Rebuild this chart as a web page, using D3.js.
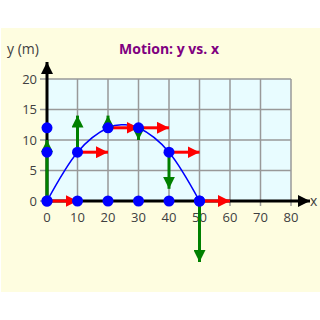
<!DOCTYPE html>
<html>
<head>
<meta charset="utf-8">
<script src="https://cdn.jsdelivr.net/npm/d3@7"></script>
<style>
  body { margin: 0; background: #fff; }
  text { font-family: "Open Sans", sans-serif; }
</style>
</head>
<body>
<div id="chart"></div>
<script>
// ticks
const xTicks = [0, 10, 20, 30, 40, 50, 60, 70, 80]
const yTicks = [0, 5, 10, 15, 20]

// projectile positions and velocity components
const posX = [0, 10, 20, 30, 40, 50]
const posY = [0, 8, 12, 12, 8, 0]
const velX = [10, 10, 10, 10, 10, 10]
const velY = [10, 6, 2, -2, -6, -10]

// projections of the positions onto the y axis
const axisY = [8, 12]

// trajectory (apex)
const pathX = [0, 10, 20, 25, 30, 40, 50]
const pathY = [0, 8, 12, 12.5, 12, 8, 0]

const svg = d3.select('#chart').append('svg')
  .attr('width', 320)
  .attr('height', 320)

svg.append('rect')
  .attr('x', 1).attr('y', 28)
  .attr('width', 319).attr('height', 264)
  .attr('fill', '#fefde0')

const x = d3.scaleLinear().domain([0, 80]).range([47, 291])
const y = d3.scaleLinear().domain([0, 20]).range([201, 79])

const defs = svg.append('defs')
function marker(id, color, size) {
  defs.append('marker')
    .attr('id', id)
    .attr('viewBox', '0 0 10 10')
    .attr('refX', 10).attr('refY', 5)
    .attr('markerUnits', 'userSpaceOnUse')
    .attr('markerWidth', size).attr('markerHeight', size)
    .attr('orient', 'auto')
    .append('path')
    .attr('d', 'M0,0 L10,5 L0,10 Z')
    .attr('fill', color)
}
marker('ah-red', '#ff0000', 12)
marker('ah-green', '#008000', 12)
marker('ah-black', '#000000', 12)

// plot area
svg.append('rect')
  .attr('x', x(0)).attr('y', y(20))
  .attr('width', x(80) - x(0)).attr('height', y(0) - y(20))
  .attr('fill', '#e8fcff')

// grid
svg.append('g').selectAll('line')
  .data(xTicks)
  .enter().append('line')
  .attr('x1', d => x(d)).attr('x2', d => x(d))
  .attr('y1', y(20)).attr('y2', y(0) + 5)
  .attr('stroke', '#999').attr('stroke-width', 1.5)

svg.append('g').selectAll('line')
  .data(yTicks)
  .enter().append('line')
  .attr('x1', x(0) - 7).attr('x2', x(80))
  .attr('y1', d => y(d)).attr('y2', d => y(d))
  .attr('stroke', '#999').attr('stroke-width', 1.5)

// tick labels
svg.append('g').selectAll('text')
  .data(xTicks)
  .enter().append('text')
  .attr('x', d => x(d)).attr('y', y(0) + 21)
  .attr('text-anchor', 'middle')
  .attr('font-size', 13)
  .attr('fill', '#404040')
  .text(d => d)

svg.append('g').selectAll('text')
  .data(yTicks)
  .enter().append('text')
  .attr('x', x(0) - 10).attr('y', d => y(d) + 4.5)
  .attr('text-anchor', 'end')
  .attr('font-size', 13)
  .attr('fill', '#404040')
  .text(d => d)

// axes with arrows
svg.append('line')
  .attr('x1', x(0)).attr('y1', y(0))
  .attr('x2', 310).attr('y2', y(0))
  .attr('stroke', '#000').attr('stroke-width', 3)
  .attr('marker-end', 'url(#ah-black)')

svg.append('line')
  .attr('x1', x(0)).attr('y1', y(0))
  .attr('x2', x(0)).attr('y2', 62)
  .attr('stroke', '#000').attr('stroke-width', 3)
  .attr('marker-end', 'url(#ah-black)')

svg.append('text')
  .attr('x', 310).attr('y', y(0) + 5)
  .attr('font-size', 14)
  .attr('fill', '#404040')
  .text('x')

svg.append('text')
  .attr('x', 7).attr('y', 54)
  .attr('font-size', 14)
  .attr('fill', '#404040')
  .text('y (m)')

svg.append('text')
  .attr('x', 169).attr('y', 54)
  .attr('text-anchor', 'middle')
  .attr('font-size', 14)
  .attr('font-weight', 'bold')
  .attr('fill', '#800080')
  .text('Motion: y vs. x')

// trajectory
const line = d3.line()
  .x((d, i) => x(pathX[i]))
  .y(d => y(d))
  .curve(d3.curveNatural)

svg.append('path')
  .datum(pathY)
  .attr('d', line)
  .attr('fill', 'none')
  .attr('stroke', '#0000ff')
  .attr('stroke-width', 1.5)

// velocity arrows
svg.append('g').selectAll('line')
  .data(posX)
  .enter().append('line')
  .attr('x1', (d, i) => x(d)).attr('y1', (d, i) => y(posY[i]))
  .attr('x2', (d, i) => x(d + velX[i])).attr('y2', (d, i) => y(posY[i]))
  .attr('stroke', '#ff0000').attr('stroke-width', 3)
  .attr('marker-end', 'url(#ah-red)')

svg.append('g').selectAll('line')
  .data(posX)
  .enter().append('line')
  .attr('x1', (d, i) => x(d)).attr('y1', (d, i) => y(posY[i]))
  .attr('x2', (d, i) => x(d)).attr('y2', (d, i) => y(posY[i] + velY[i]))
  .attr('stroke', '#008000').attr('stroke-width', 3)
  .attr('marker-end', 'url(#ah-green)')

// points
const pts = svg.append('g')
pts.selectAll('.proj-x')
  .data(posX)
  .enter().append('circle')
  .attr('cx', d => x(d)).attr('cy', y(0))
  .attr('r', 5.5).attr('fill', '#0000ff')

pts.selectAll('.proj-y')
  .data(axisY)
  .enter().append('circle')
  .attr('cx', x(0)).attr('cy', d => y(d))
  .attr('r', 5.5).attr('fill', '#0000ff')

pts.selectAll('.pos')
  .data(posX)
  .enter().append('circle')
  .attr('cx', d => x(d)).attr('cy', (d, i) => y(posY[i]))
  .attr('r', 5.5).attr('fill', '#0000ff')
</script>
</body>
</html>
